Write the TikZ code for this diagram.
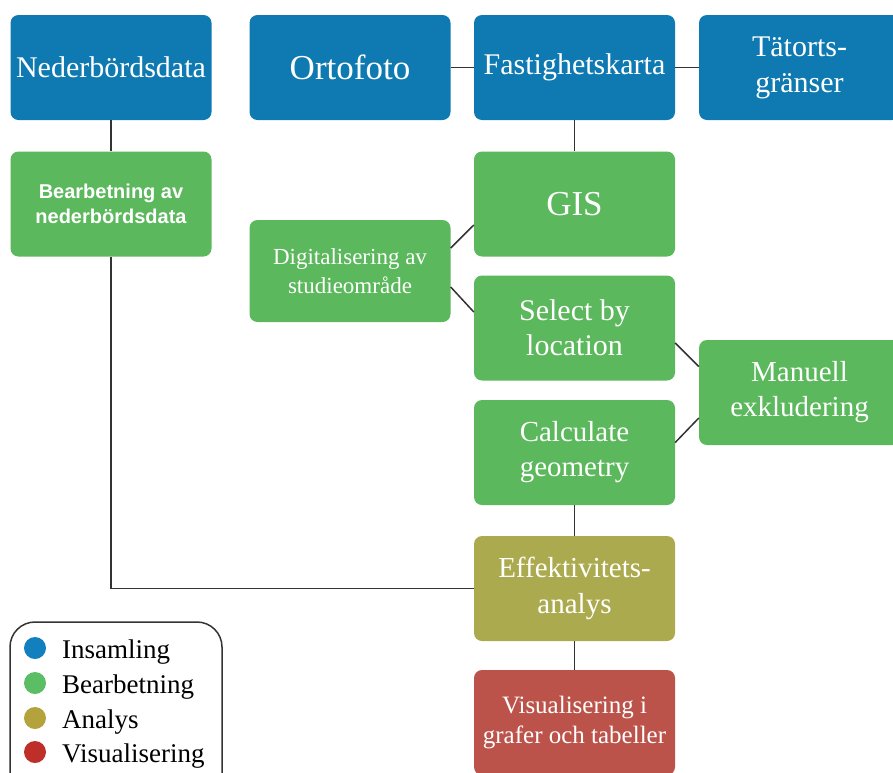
\documentclass[tikz,border=0pt]{standalone}
\usepackage{fontspec}
\setmainfont{Liberation Serif}
\newfontfamily\sansfont{Liberation Sans}
\definecolor{cblue}{HTML}{0F7AB2}
\definecolor{cgreen}{HTML}{5CB85C}
\definecolor{colive}{HTML}{ACAA4E}
\definecolor{cred}{HTML}{BC534B}
\definecolor{dblue}{HTML}{1280BE}
\definecolor{dgreen}{HTML}{5BBE64}
\definecolor{dolive}{HTML}{B4A33C}
\definecolor{dred}{HTML}{BE2F2A}
\definecolor{cline}{HTML}{333333}
\tikzset{
  stepbox/.style={rectangle, rounded corners=8pt, minimum width=201pt, minimum height=105pt,
    inner sep=0pt, text=white, align=center, font=\fontsize{30}{35}\selectfont},
  bluebox/.style={stepbox, fill=cblue},
  greenbox/.style={stepbox, fill=cgreen},
  olivebox/.style={stepbox, fill=colive},
  redbox/.style={stepbox, fill=cred},
  conn/.style={draw=cline, line width=1.5pt},
  legdot/.style={circle, minimum size=22pt, inner sep=0pt},
  legtext/.style={anchor=base west, inner sep=0pt, font=\fontsize{27}{30}\selectfont, text=black}
}
\begin{document}
\begin{tikzpicture}[x=1pt,y=-1pt]
\useasboundingbox (0,0) rectangle (893,772);
% nodes
\node[bluebox] (ned) at (111,67.5) {Nederbördsdata};
\node[bluebox, font=\fontsize{35}{40}\selectfont] (orto) at (350,67.5) {Ortofoto};
\node[bluebox] (fast) at (574.5,67.5) {Fastighetskarta};
\node[bluebox, font=\fontsize{30}{36}\selectfont] (tat) at (799.5,67.5) {Tätorts-\\gränser};
\node[greenbox, font=\sansfont\bfseries\fontsize{20}{25}\selectfont] (bear) at (111,204) {Bearbetning av\\nederbördsdata};
\node[greenbox, font=\fontsize{35}{40}\selectfont] (gis) at (574.5,204) {GIS};
\node[greenbox, minimum height=102pt, font=\fontsize{23}{29}\selectfont] (dig) at (350,271) {Digitalisering av\\studieområde};
\node[greenbox] (sel) at (574.5,328) {Select by\\location};
\node[greenbox, font=\fontsize{29}{35}\selectfont] (man) at (799.5,392.5) {Manuell\\exkludering};
\node[greenbox, font=\fontsize{29}{35}\selectfont] (calc) at (574.5,452.5) {Calculate\\geometry};
\node[olivebox, font=\fontsize{29}{36}\selectfont] (eff) at (574.5,588.5) {Effektivitets-\\analys};
\node[redbox, font=\fontsize{25}{30}\selectfont] (vis) at (574.5,722.5) {Visualisering i\\grafer och tabeller};
% connectors
\draw[conn] (ned.south) -- (bear.north);
\draw[conn] (bear.south) |- (eff.west);
\draw[conn] (orto.east) -- (fast.west);
\draw[conn] (fast.east) -- (tat.west);
\draw[conn] (fast.south) -- (gis.north);
\draw[conn] ([yshift=23pt]dig.east) -- ([yshift=-21pt]gis.west);
\draw[conn] ([yshift=-16pt]dig.east) -- ([yshift=16pt]sel.west);
\draw[conn] ([yshift=-15pt]sel.east) -- ([yshift=26pt]man.west);
\draw[conn] ([yshift=10pt]calc.east) -- ([yshift=-25.5pt]man.west);
\draw[conn] (calc.south) -- (eff.north);
\draw[conn] (eff.south) -- (vis.north);
% legend
\draw[cline, line width=1.5pt, rounded corners=25pt] (10,622) rectangle (222,800);
\node[legdot, fill=dblue] (d1) at (35,648) {};
\node[legdot, fill=dgreen] (d2) at (35,683) {};
\node[legdot, fill=dolive] (d3) at (35,718) {};
\node[legdot, fill=dred] (d4) at (35,752) {};
\node[legtext] (t1) at (62,658) {Insamling};
\node[legtext] (t2) at (62,693) {Bearbetning};
\node[legtext] (t3) at (62,728) {Analys};
\node[legtext] (t4) at (62,762) {Visualisering};
\end{tikzpicture}
\end{document}
